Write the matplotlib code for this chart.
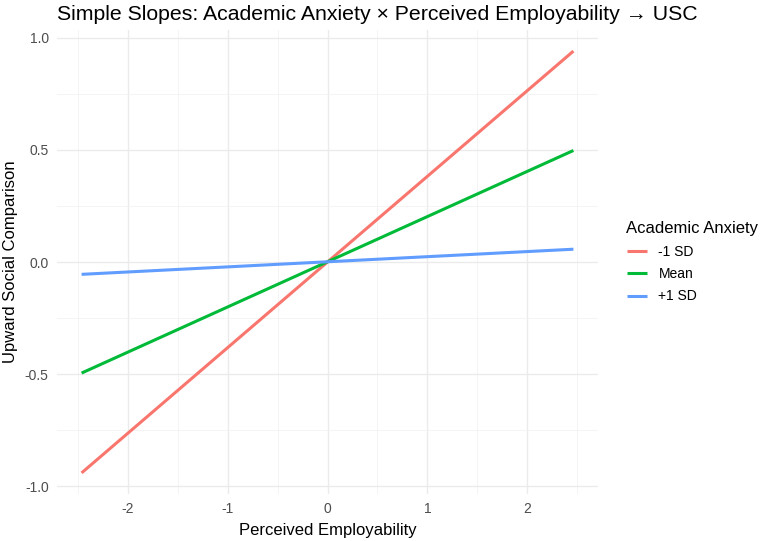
import matplotlib
matplotlib.use("Agg")
import matplotlib.pyplot as plt
from matplotlib.ticker import MultipleLocator

plt.rcParams['font.family'] = ['Liberation Sans', 'DejaVu Sans']

# Data
pe_x = [-2.46, 2.46]
groups = ["-1 SD", "Mean", "+1 SD"]
usc_low = [-0.94, 0.94]
usc_mean = [-0.495, 0.497]
usc_high = [-0.055, 0.057]
series = [usc_low, usc_mean, usc_high]
colors = ["#F8766D", "#00BA38", "#619CFF"]

x_ticks = [-2, -1, 0, 1, 2]
y_ticks = [-1.0, -0.5, 0.0, 0.5, 1.0]

fig = plt.figure(figsize=(7.67, 5.41), dpi=100)
ax = fig.add_axes([57/767, 1-494/541, (598-57)/767, (494-30)/541])

for name, ys, c in zip(groups, series, colors):
    ax.plot(pe_x, ys, color=c, lw=2.2, label=name, solid_capstyle='butt')

ax.set_xlim(-2.706, 2.706)
ax.set_ylim(-1.034, 1.034)
ax.set_xticks(x_ticks)
ax.set_xticklabels([str(v) for v in x_ticks])
ax.set_yticks(y_ticks)
ax.set_yticklabels([f"{v:.1f}" for v in y_ticks])
ax.xaxis.set_minor_locator(MultipleLocator(0.5))
ax.yaxis.set_minor_locator(MultipleLocator(0.25))
ax.grid(which='major', color='#EBEBEB', lw=1.0)
ax.grid(which='minor', color='#F2F2F2', lw=0.6)
ax.set_axisbelow(True)
for s in ax.spines.values():
    s.set_visible(False)
ax.tick_params(which='both', length=0, labelsize=10, labelcolor='#4D4D4D', pad=6)

ax.set_xlabel("Perceived Employability", fontsize=12, color='black', labelpad=5)
ax.set_ylabel("Upward Social Comparison", fontsize=12, color='black', labelpad=5)
ax.set_title("Simple Slopes: Academic Anxiety \u00d7 Perceived Employability \u2192 USC",
             fontsize=15.3, loc='left', x=0.0, pad=7)

leg = fig.legend(loc='upper left', bbox_to_anchor=(614/767, 1-209/541), frameon=False,
                 title="Academic Anxiety", fontsize=10, title_fontsize=12,
                 handlelength=1.5, handletextpad=0.8, labelspacing=0.6)
leg._legend_box.align = "left"

fig.savefig("out.png", dpi=100)
